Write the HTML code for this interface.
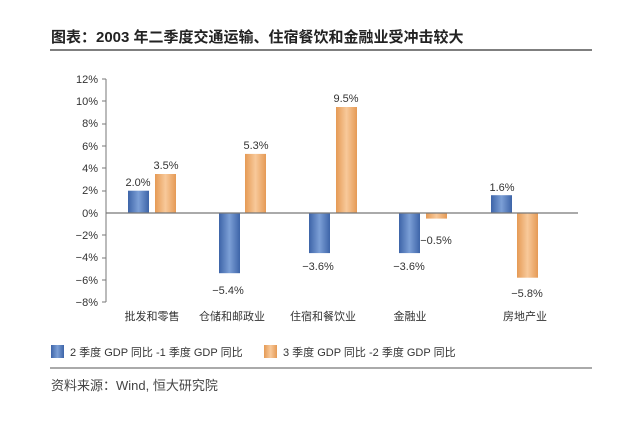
<!DOCTYPE html>
<html><head><meta charset="utf-8"><style>
body{margin:0;background:#fff;}
svg text{font-family:"Liberation Sans","Noto Sans CJK SC",sans-serif;}
</style></head><body>
<svg width="640" height="423" viewBox="0 0 640 423" xmlns="http://www.w3.org/2000/svg">
<defs>
<linearGradient id="b" x1="0" x2="1"><stop offset="0" stop-color="#3d64a8"/><stop offset="0.5" stop-color="#7c9fd6"/><stop offset="1" stop-color="#3d64a8"/></linearGradient>
<linearGradient id="o" x1="0" x2="1"><stop offset="0" stop-color="#e59a55"/><stop offset="0.5" stop-color="#f8c99a"/><stop offset="1" stop-color="#e59a55"/></linearGradient>
</defs>
<text x="51" y="42" font-size="15" font-weight="bold" fill="#222">图表：2003 年二季度交通运输、住宿餐饮和金融业受冲击较大</text>
<line x1="50" y1="50" x2="592" y2="50" stroke="#555" stroke-width="1.5"/>
<g font-size="11" fill="#333" text-anchor="end">
<text x="98" y="83">12%</text><text x="98" y="105">10%</text><text x="98" y="127">8%</text><text x="98" y="150">6%</text><text x="98" y="172">4%</text><text x="98" y="194">2%</text><text x="98" y="217">0%</text><text x="98" y="239">−2%</text><text x="98" y="261">−4%</text><text x="98" y="284">−6%</text><text x="98" y="306">−8%</text>
</g>
<g stroke="#777" stroke-width="1">
<line x1="106" y1="79" x2="106" y2="302"/>
<line x1="102" y1="79" x2="106" y2="79"/><line x1="102" y1="101" x2="106" y2="101"/><line x1="102" y1="124" x2="106" y2="124"/><line x1="102" y1="146" x2="106" y2="146"/><line x1="102" y1="168" x2="106" y2="168"/><line x1="102" y1="191" x2="106" y2="191"/><line x1="102" y1="235" x2="106" y2="235"/><line x1="102" y1="258" x2="106" y2="258"/><line x1="102" y1="280" x2="106" y2="280"/><line x1="102" y1="302" x2="106" y2="302"/>
</g>
<rect x="128" y="190.7" width="21" height="22.3" fill="url(#b)"/>
<rect x="155" y="174" width="21" height="39" fill="url(#o)"/>
<rect x="219" y="213" width="21" height="60.2" fill="url(#b)"/>
<rect x="245" y="153.9" width="21" height="59.1" fill="url(#o)"/>
<rect x="309" y="213" width="21" height="40.1" fill="url(#b)"/>
<rect x="336" y="107" width="21" height="106" fill="url(#o)"/>
<rect x="399" y="213" width="21" height="40.1" fill="url(#b)"/>
<rect x="426" y="213" width="21" height="5.6" fill="url(#o)"/>
<rect x="491" y="195.2" width="21" height="17.8" fill="url(#b)"/>
<rect x="517" y="213" width="21" height="64.7" fill="url(#o)"/>
<line x1="106" y1="213" x2="578" y2="213" stroke="#777" stroke-width="1.2"/>
<g font-size="11" fill="#333" text-anchor="middle">
<text x="138" y="186">2.0%</text><text x="166" y="169">3.5%</text>
<text x="228" y="294">−5.4%</text><text x="256" y="149">5.3%</text>
<text x="318" y="270">−3.6%</text><text x="346" y="102">9.5%</text>
<text x="409" y="270">−3.6%</text><text x="436" y="244">−0.5%</text>
<text x="502" y="191">1.6%</text><text x="527" y="297">−5.8%</text>
</g>
<g font-size="11" fill="#333" text-anchor="middle">
<text x="152" y="320">批发和零售</text><text x="232" y="320">仓储和邮政业</text><text x="323" y="320">住宿和餐饮业</text><text x="410" y="320">金融业</text><text x="525" y="320">房地产业</text>
</g>
<rect x="51" y="345" width="13" height="13" fill="url(#b)"/>
<text x="70" y="356" font-size="11" fill="#333">2 季度 GDP 同比 -1 季度 GDP 同比</text>
<rect x="264" y="345" width="13" height="13" fill="url(#o)"/>
<text x="283" y="356" font-size="11" fill="#333">3 季度 GDP 同比 -2 季度 GDP 同比</text>
<line x1="50" y1="368" x2="592" y2="368" stroke="#555" stroke-width="1"/>
<text x="51" y="390" font-size="13" fill="#444">资料来源：Wind, 恒大研究院</text>
</svg>
</body></html>
